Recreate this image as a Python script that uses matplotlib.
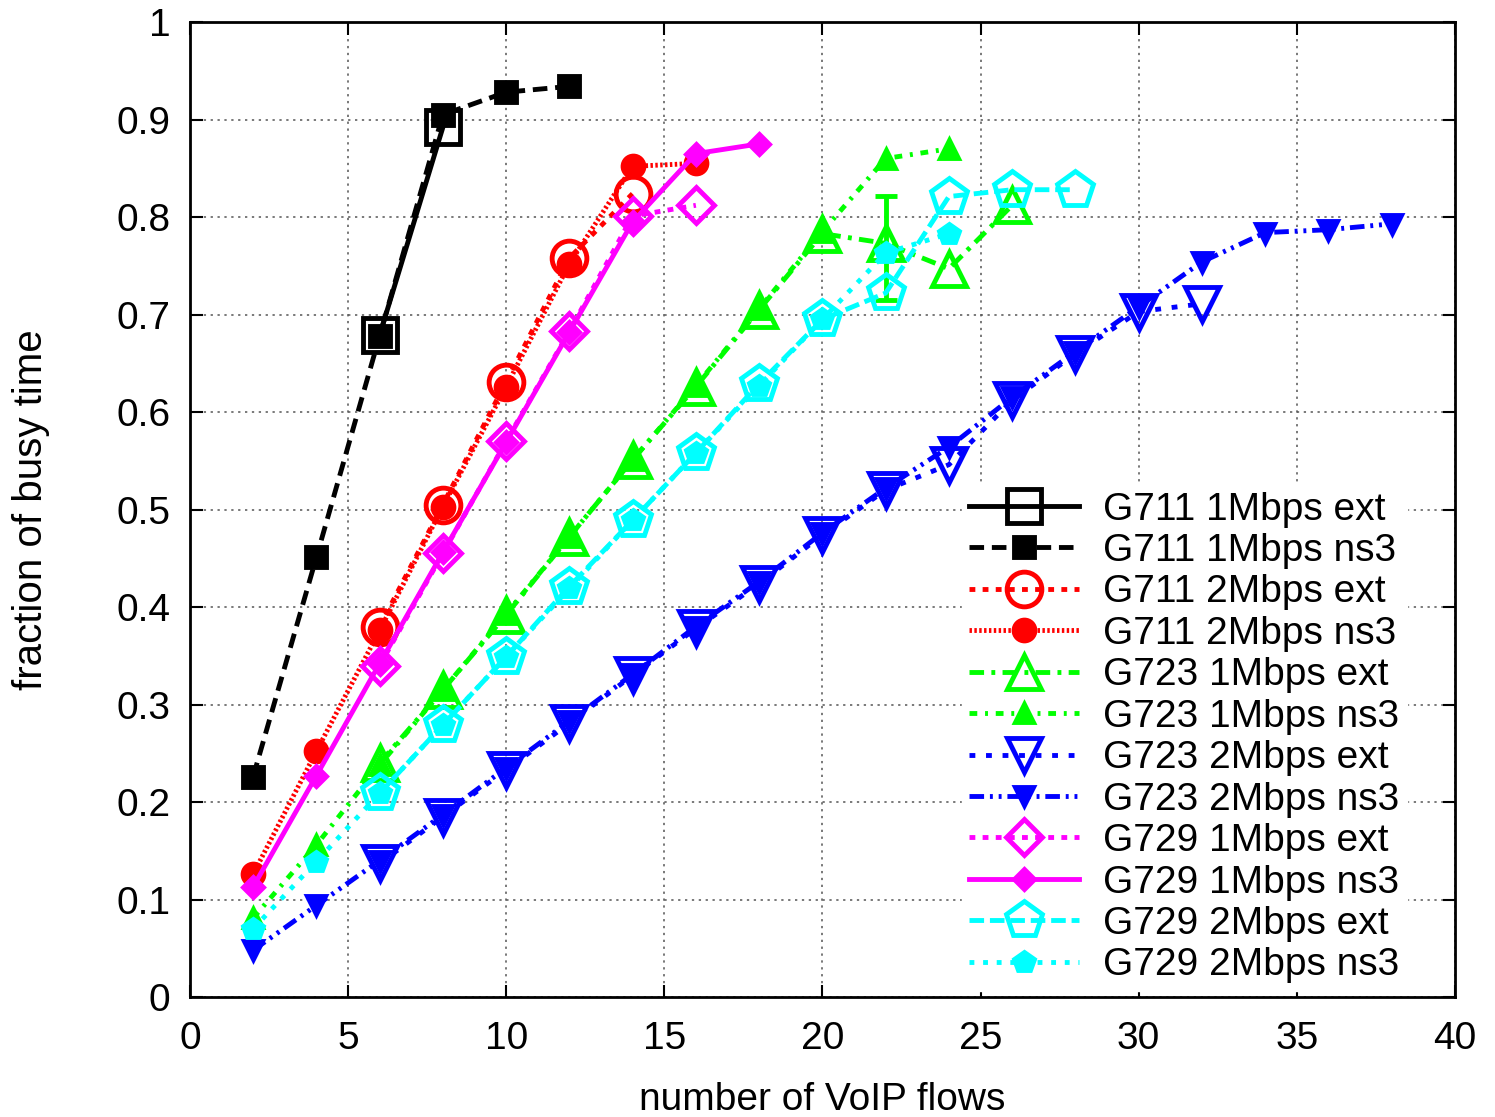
import matplotlib
matplotlib.use("Agg")
import matplotlib.pyplot as plt
from matplotlib.ticker import FormatStrFormatter, MultipleLocator

plt.rcParams['font.family'] = ['Liberation Sans', 'DejaVu Sans']

# data (x = number of VoIP flows)
g711_1m_ext_x = [6, 8]
g711_1m_ext_y = [0.679, 0.892]
g711_1m_ns3_x = [2, 4, 6, 8, 10, 12]
g711_1m_ns3_y = [0.226, 0.451, 0.678, 0.905, 0.928, 0.934]

g711_2m_ext_x = [6, 8, 10, 12, 14]
g711_2m_ext_y = [0.380, 0.505, 0.631, 0.758, 0.824]
g711_2m_ns3_x = [2, 4, 6, 8, 10, 12, 14, 16]
g711_2m_ns3_y = [0.126, 0.252, 0.376, 0.503, 0.626, 0.752, 0.852, 0.855]

g723_1m_ext_x = [6, 8, 10, 12, 14, 16, 18, 20, 22, 24, 26]
g723_1m_ext_y = [0.240, 0.315, 0.392, 0.472, 0.551, 0.626, 0.705, 0.783, 0.773, 0.747, 0.812]
g723_1m_ns3_x = [2, 4, 6, 8, 10, 12, 14, 16, 18, 20, 22, 24]
g723_1m_ns3_y = [0.081, 0.156, 0.238, 0.315, 0.393, 0.472, 0.551, 0.627, 0.706, 0.785, 0.860, 0.870]

g723_2m_ext_x = [6, 8, 10, 12, 14, 16, 18, 20, 22, 24, 26, 28, 30, 32]
g723_2m_ext_y = [0.137, 0.185, 0.233, 0.281, 0.330, 0.378, 0.424, 0.474, 0.520, 0.546,
                 0.612, 0.660, 0.703, 0.711]
g723_2m_ns3_x = [2, 4, 6, 8, 10, 12, 14, 16, 18, 20, 22, 24, 26, 28, 30, 32, 34, 36, 38]
g723_2m_ns3_y = [0.048, 0.094, 0.140, 0.187, 0.235, 0.283, 0.331, 0.380, 0.426, 0.476,
                 0.522, 0.564, 0.615, 0.662, 0.708, 0.754, 0.784, 0.787, 0.793]

g729_1m_ext_x = [6, 8, 10, 12, 14, 16]
g729_1m_ext_y = [0.340, 0.455, 0.570, 0.683, 0.801, 0.812]
g729_1m_ns3_x = [2, 4, 6, 8, 10, 12, 14, 16, 18]
g729_1m_ns3_y = [0.113, 0.227, 0.342, 0.456, 0.569, 0.682, 0.795, 0.865, 0.875]

g729_2m_ext_x = [6, 8, 10, 12, 14, 16, 18, 20, 22, 24, 26, 28]
g729_2m_ext_y = [0.209, 0.279, 0.349, 0.421, 0.489, 0.558, 0.629, 0.695, 0.722, 0.821, 0.828, 0.828]
g729_2m_ns3_x = [2, 4, 6, 8, 10, 12, 14, 16, 18, 20, 22, 24]
g729_2m_ns3_y = [0.070, 0.139, 0.209, 0.279, 0.349, 0.419, 0.489, 0.558, 0.627, 0.695, 0.763, 0.783]

# the one visible error bar (G723 1Mbps ext at 22 flows)
err_x = [22]
err_y = [0.773]
err_lo = [0.058]
err_hi = [0.049]

fig = plt.figure(figsize=(14.95, 11.17), dpi=100)
ax = fig.add_axes([0.127, 0.1074, 0.8462, 0.8729])

lw = 3.5
series = [
    (g711_1m_ext_x, g711_1m_ext_y, 'G711 1Mbps ext', 'black', '-', 's', 25, 'none'),
    (g711_1m_ns3_x, g711_1m_ns3_y, 'G711 1Mbps ns3', 'black', (0, (3, 1.6)), 's', 15, 'black'),
    (g711_2m_ext_x, g711_2m_ext_y, 'G711 2Mbps ext', 'red', (0, (1.2, 1.5)), 'o', 25, 'none'),
    (g711_2m_ns3_x, g711_2m_ns3_y, 'G711 2Mbps ns3', 'red', (0, (0.5, 0.5)), 'o', 15, 'red'),
    (g723_1m_ext_x, g723_1m_ext_y, 'G723 1Mbps ext', '#00ff00', (0, (3, 1.5, 0.8, 1.5)), '^', 25, 'none'),
    (g723_1m_ns3_x, g723_1m_ns3_y, 'G723 1Mbps ns3', '#00ff00', (0, (1.6, 1.6, 0.6, 1.6)), '^', 13, '#00ff00'),
    (g723_2m_ext_x, g723_2m_ext_y, 'G723 2Mbps ext', 'blue', (0, (1.2, 2.2)), 'v', 25, 'none'),
    (g723_2m_ns3_x, g723_2m_ns3_y, 'G723 2Mbps ns3', 'blue', (0, (3, 1.2, 0.6, 1.2, 0.6, 1.2)), 'v', 13, 'blue'),
    (g729_1m_ext_x, g729_1m_ext_y, 'G729 1Mbps ext', '#ff00ff', (0, (1.2, 1.5)), 'D', 18, 'none'),
    (g729_1m_ns3_x, g729_1m_ns3_y, 'G729 1Mbps ns3', '#ff00ff', '-', 'D', 10, '#ff00ff'),
    (g729_2m_ext_x, g729_2m_ext_y, 'G729 2Mbps ext', '#00ffff', (0, (3, 1.2)), 'p', 27, 'none'),
    (g729_2m_ns3_x, g729_2m_ns3_y, 'G729 2Mbps ns3', '#00ffff', (0, (1, 1.8)), 'p', 15, '#00ffff'),
]

for i, (xs, ys, label, col, ls, mk, ms, fc) in enumerate(series):
    ax.plot(xs, ys, color=col, linestyle=ls, linewidth=lw, marker=mk, markersize=ms,
            markerfacecolor=fc, markeredgecolor=col, markeredgewidth=3.5, label=label,
            zorder=3 + i * 0.1)
    if label == 'G723 1Mbps ext':
        ax.errorbar(err_x, err_y, yerr=[err_lo, err_hi], fmt='none', ecolor=col,
                    elinewidth=lw, capsize=8, capthick=lw, zorder=3.45)

ax.set_xlim(0, 40)
ax.set_ylim(0, 1)
ax.xaxis.set_major_locator(MultipleLocator(5))
ax.yaxis.set_major_locator(MultipleLocator(0.1))
ax.yaxis.set_major_formatter(FormatStrFormatter('%g'))
ax.tick_params(direction='in', length=9, width=1.5, labelsize=28, top=True, right=True)
ax.tick_params(axis='y', pad=14)
ax.tick_params(axis='x', pad=17)
for sp in ax.spines.values():
    sp.set_linewidth(2)
ax.grid(True, color='#555555', linestyle=(0, (1.5, 3)), linewidth=1.1)
ax.set_axisbelow(True)

leg = ax.legend(loc='lower left', bbox_to_anchor=(0.610, 0.006), fontsize=28, frameon=True,
                handlelength=2.83, labelspacing=0.14, borderpad=0.2, handletextpad=0.6,
                borderaxespad=0.0)
leg.get_frame().set_edgecolor('white')
leg.get_frame().set_facecolor('white')
leg.get_frame().set_alpha(1.0)
leg.set_zorder(10)

fig.text(0.0207, 0.5434, 'fraction of busy time', rotation=90, fontsize=29,
         ha='center', va='center')
fig.text(0.5502, 0.0152, 'number of VoIP flows', fontsize=28, ha='center', va='center')

fig.savefig('out.png', dpi=100)
